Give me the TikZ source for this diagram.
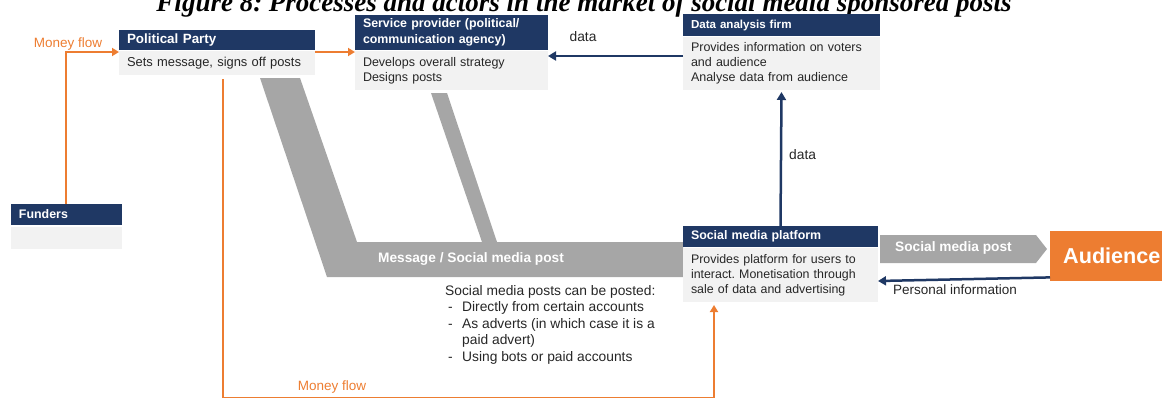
\documentclass[tikz,border=0pt]{standalone}
\usepackage{fontspec}
\setmainfont{Liberation Sans}
\newfontfamily\titlefont{Liberation Serif}
\usetikzlibrary{arrows.meta,calc}
\definecolor{navy}{RGB}{31,56,100}
\definecolor{orng}{RGB}{237,125,49}
\definecolor{bodygray}{RGB}{242,242,242}
\definecolor{bandgray}{RGB}{166,166,166}
\definecolor{txt}{RGB}{38,38,38}
\frenchspacing
\begin{document}
\begin{tikzpicture}[x=1pt,y=-1pt,
  hdr/.style={fill=navy,text=white,font=\bfseries\fontsize{#1}{16}\selectfont,anchor=north west,inner sep=0pt,inner xsep=8pt,align=left,outer sep=0pt},
  bdy/.style={fill=bodygray,text=txt,font=\fontsize{#1}{15}\selectfont,anchor=north west,inner sep=0pt,inner xsep=8pt,align=left,outer sep=0pt},
  money/.style={draw=orng,line width=2pt,-{Triangle[length=7pt,width=8pt]}},
  datafl/.style={draw=navy,line width=2.5pt,-{Triangle[length=8pt,width=9pt]}},
  lbl/.style={font=\fontsize{13.8}{16}\selectfont,text=txt,inner sep=0pt},
  mlbl/.style={font=\fontsize{13.5}{16}\selectfont,text=orng,inner sep=0pt},
  bandtxt/.style={font=\bfseries\fontsize{13.7}{16}\selectfont,text=white,inner sep=0pt}]
\useasboundingbox (0,0) rectangle (1162,397);
% title (cut at top)
\node[font=\titlefont\bfseries\itshape\fontsize{27}{29}\selectfont,anchor=base,inner sep=0pt] (title) at (584,11) {Figure 8: Processes and actors in the market of social media sponsored posts};
% grey message band
\fill[bandgray] (260,78) -- (327,277) -- (683,277) -- (683,242) -- (497,242) -- (447,93) -- (431,93) -- (482,242) -- (357,242) -- (300,78) -- cycle;
\node[bandtxt] (msg) at (471,259) {Message / Social media post};
% boxes
\node[hdr=13.4,text width=180pt,minimum height=20pt] (pph) at (119,30) {Political Party};
\node[bdy=12.9,text width=180pt,minimum height=24pt] (ppb) at (119,51) {Sets message, signs off posts};
\node[hdr=12.4,text width=177pt,minimum height=35pt] (sph) at (355,15) {Service provider (political/\\communication agency)};
\node[bdy=12.5,text width=177pt,minimum height=39pt] (spb) at (355,51) {Develops overall strategy\\Designs posts};
\node[hdr=11.6,text width=181pt,minimum height=22pt] (dah) at (683,14) {Data analysis firm};
\node[bdy=12.5,text width=181pt,minimum height=53pt] (dab) at (683,37) {Provides information on voters\\and audience\\Analyse data from audience};
\node[hdr=12.4,text width=95pt,minimum height=21pt] (fuh) at (11,204) {Funders};
\node[bdy=11,text width=95pt,minimum height=22pt] (fub) at (11,227) {};
\node[hdr=12.4,text width=179pt,minimum height=21pt] (smh) at (683,226) {Social media platform};
\node[bdy=12.4,text width=179pt,minimum height=54pt] (smb) at (683,248) {Provides platform for users to\\interact. Monetisation through\\sale of data and advertising};
\node[fill=orng,text=white,font=\bfseries\fontsize{21.6}{24}\selectfont,anchor=north west,inner sep=0pt,inner xsep=13pt,text width=120pt,minimum height=50pt,align=left] (aud) at (1050,231) {Audience};
% social media post arrow
\fill[bandgray] (880,235) -- (1036,235) -- (1047,249) -- (1036,263) -- (880,263) -- cycle;
\node[bandtxt,anchor=west] (smp) at (895,248) {Social media post};
% money flows
\draw[money] ([xshift=55pt]fuh.north west) |- ([yshift=-2pt]pph.south west);
\node[mlbl] (mf1) at (68,44) {Money flow};
\draw[money] ([yshift=-2pt]pph.south east) -- ([yshift=-2pt]sph.south west);
\coordinate (mstart) at ([xshift=6pt,yshift=-4pt]ppb.south);
\coordinate (mend) at ([xshift=-66.5pt,yshift=-3pt]smb.south);
\draw[money] (mstart) -- (mstart |- 0,397.5) -- (mend |- 0,397.5) -- (mend);
\node[mlbl] (mf2) at (332,387) {Money flow};
% data flows
\draw[datafl] ([yshift=-19pt]dab.north west) -- ([yshift=-5pt]spb.north east);
\node[lbl] (d1) at (583,37) {data};
\draw[datafl] (smh.north) -- ([yshift=-2pt]dab.south);
\node[lbl,anchor=west] (d2) at (789,155) {data};
\draw[datafl] ([yshift=4pt]aud.south west) -- ([yshift=-4pt]smb.north east |- 0,277);
\node[font=\fontsize{13.5}{16}\selectfont,text=txt,inner sep=0pt] (pi) at (955,290) {Personal information};
% posting note
\node[font=\fontsize{13.8}{16.5}\selectfont,text=txt,anchor=north west,inner sep=0pt,align=left] (note) at (445,285)
{Social media posts can be posted:\\
\makebox[17pt][l]{\hspace{3pt}-}Directly from certain accounts\\
\makebox[17pt][l]{\hspace{3pt}-}As adverts (in which case it is a\\
\hspace*{17pt}paid advert)\\
\makebox[17pt][l]{\hspace{3pt}-}Using bots or paid accounts};
\end{tikzpicture}
\end{document}
